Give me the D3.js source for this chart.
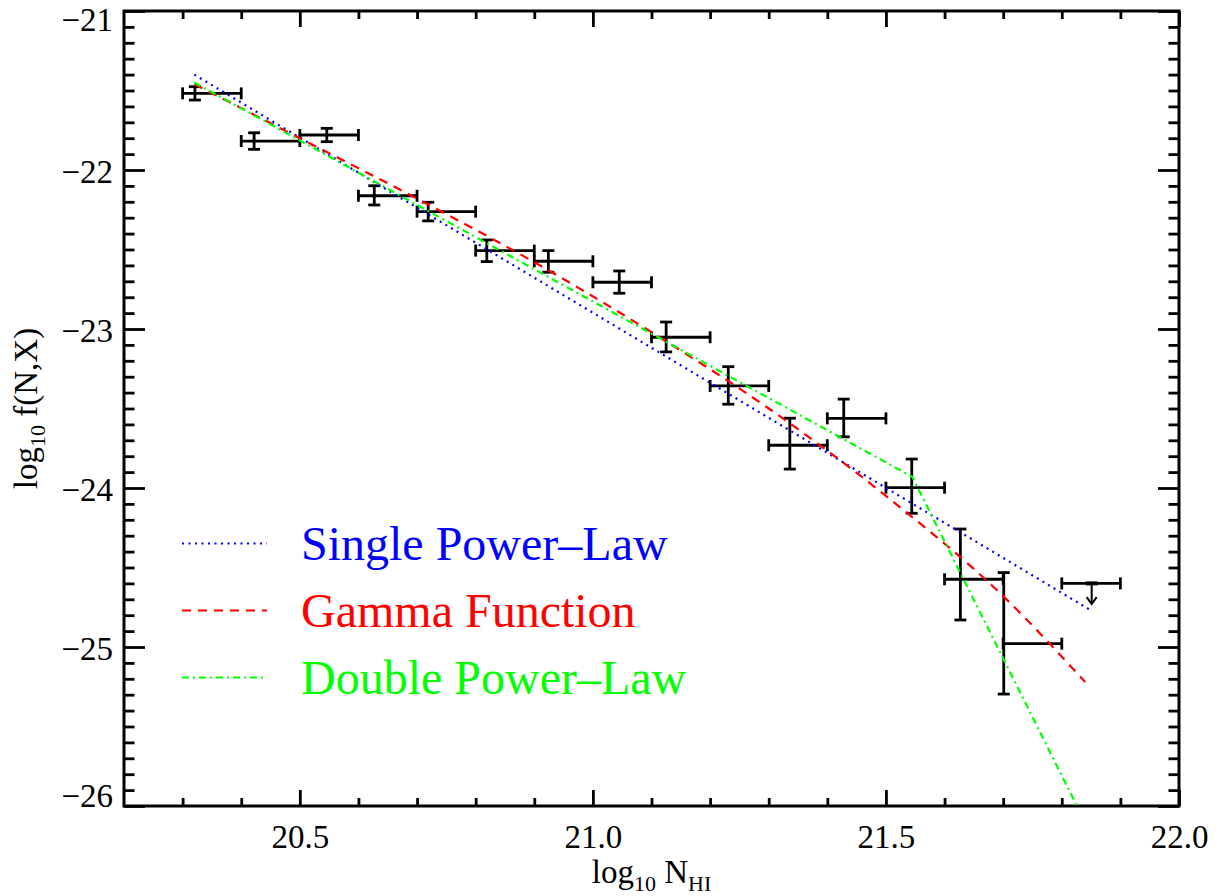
<!DOCTYPE html>
<html>
<head>
<meta charset="utf-8">
<script src="https://cdn.jsdelivr.net/npm/d3@7"></script>
<style>
  body { margin: 0; background: #fff; }
</style>
</head>
<body>
<div id="chart"></div>
<script>
// binned measurements
const binX    = [20.321, 20.422, 20.546, 20.627, 20.719, 20.819, 20.924, 21.045, 21.125, 21.231, 21.336, 21.428, 21.544, 21.627, 21.701];
const binLo   = [20.3, 20.4, 20.5, 20.6, 20.7, 20.8, 20.9, 21.0, 21.1, 21.2, 21.3, 21.4, 21.5, 21.6, 21.7];
const binHi   = [20.4, 20.5, 20.6, 20.7, 20.8, 20.9, 21.0, 21.1, 21.2, 21.3, 21.4, 21.5, 21.6, 21.7, 21.8];
const binY    = [-21.518, -21.818, -21.780, -22.162, -22.262, -22.507, -22.574, -22.706, -23.052, -23.358, -23.731, -23.562, -23.998, -24.574, -24.979];
const errUp   = [0.042, 0.052, 0.042, 0.063, 0.059, 0.067, 0.067, 0.071, 0.096, 0.121, 0.170, 0.121, 0.180, 0.316, 0.447];
const errDown = [0.042, 0.052, 0.042, 0.058, 0.058, 0.069, 0.069, 0.069, 0.092, 0.115, 0.150, 0.116, 0.161, 0.256, 0.317];

// upper limit in last bin
const limX = 21.851, limLo = 21.8, limHi = 21.9, limY = -24.60, limArrow = 0.13;

// fitted models
const singleX = [20.32, 21.85];
const singleY = [-21.40, -24.77];
const gammaX  = [20.32, 20.50, 20.70, 20.90, 21.10, 21.30, 21.50, 21.70, 21.84];
const gammaY  = [-21.46, -21.80, -22.18, -22.58, -23.02, -23.50, -24.05, -24.68, -25.22];
const doubleX = [20.32, 21.545, 21.83];
const doubleY = [-21.45, -23.93, -26.03];

const legendNames  = ["Single Power\u2013Law", "Gamma Function", "Double Power\u2013Law"];
const legendColors = ["#0000ff", "#ff0000", "#00ff00"];
const legendDash   = ["2,4.5", "9,7", "7,4,2,4"];

const xMajor = [20.5, 21.0, 21.5, 22.0];
const yMajor = [-21, -22, -23, -24, -25, -26];

const serif = "'Liberation Serif', 'Times New Roman', serif";
const width = 1223, height = 896;
const margin = { top: 11, right: 44, bottom: 90, left: 124 };
const w = width - margin.left - margin.right;
const h = height - margin.top - margin.bottom;

const svg = d3.select("#chart").append("svg")
    .attr("width", width)
    .attr("height", height)
    .style("font-family", serif)
  .append("g")
    .attr("transform", `translate(${margin.left},${margin.top})`);

const x = d3.scaleLinear().domain([20.2, 22.0]).range([0, w]);
const y = d3.scaleLinear().domain([-26, -21]).range([h, 0]);

svg.append("clipPath").attr("id", "clip")
  .append("rect").attr("width", w).attr("height", h);

// axes: ticks point inward on all four sides
const xMinor = d3.range(20.3, 22.0, 0.1).filter(v => Math.abs(v * 2 - Math.round(v * 2)) > 1e-6);
const yMinor = d3.range(-25.9, -21.0, 0.1).filter(v => Math.abs(v - Math.round(v)) > 1e-6);
const tickLenX = 16, tickLenY = 21;

function styleAxis(g) {
  g.attr("font-family", null).attr("font-size", null);
  g.select(".domain").remove();
  g.selectAll(".tick line").attr("stroke", "#000").attr("stroke-width", 2.8);
}

svg.append("g").attr("transform", `translate(0,${h})`)
    .call(d3.axisBottom(x).tickValues(xMajor).tickSize(-tickLenX).tickFormat(d3.format(".1f")))
    .call(styleAxis)
    .call(g => g.selectAll(".tick text")
      .attr("y", 42).attr("dy", 0).attr("fill", "#000")
      .style("font-size", "33px").style("font-family", serif));
svg.append("g").attr("transform", `translate(0,${h})`)
    .call(d3.axisBottom(x).tickValues(xMinor).tickSize(-tickLenX / 2).tickFormat(""))
    .call(styleAxis);
svg.append("g")
    .call(d3.axisTop(x).tickValues(xMajor).tickSize(-tickLenX).tickFormat(""))
    .call(styleAxis);
svg.append("g")
    .call(d3.axisTop(x).tickValues(xMinor).tickSize(-tickLenX / 2).tickFormat(""))
    .call(styleAxis);

svg.append("g")
    .call(d3.axisLeft(y).tickValues(yMajor).tickSize(-tickLenY).tickPadding(11)
      .tickFormat(d => "\u2212" + Math.abs(d)))
    .call(styleAxis)
    .call(g => g.selectAll(".tick text")
      .attr("x", -11).attr("dy", 0).attr("fill", "#000")
      .style("font-size", "33px").style("font-family", serif)
      .attr("y", d => d === -21 ? 19 : (d === -26 ? 0 : 12.5)));
svg.append("g")
    .call(d3.axisLeft(y).tickValues(yMinor).tickSize(-tickLenY / 2).tickFormat(""))
    .call(styleAxis);
svg.append("g").attr("transform", `translate(${w},0)`)
    .call(d3.axisRight(y).tickValues(yMajor).tickSize(-tickLenY).tickFormat(""))
    .call(styleAxis);
svg.append("g").attr("transform", `translate(${w},0)`)
    .call(d3.axisRight(y).tickValues(yMinor).tickSize(-tickLenY / 2).tickFormat(""))
    .call(styleAxis);

svg.append("rect")
    .attr("width", w).attr("height", h)
    .attr("fill", "none").attr("stroke", "#000").attr("stroke-width", 3);

// axis titles
const xt = svg.append("text")
    .attr("x", w / 2).attr("y", h + 77)
    .attr("text-anchor", "middle").style("font-size", "33px").style("font-family", serif).attr("fill", "#000");
xt.append("tspan").text("log");
xt.append("tspan").style("font-size", "22px").attr("dy", 8).text("10");
xt.append("tspan").attr("dy", -8).text(" N");
xt.append("tspan").style("font-size", "22px").attr("dy", 8).text("HI");

const yt = svg.append("text")
    .attr("transform", `translate(${37 - margin.left},${h / 2}) rotate(-90)`)
    .attr("text-anchor", "middle").style("font-size", "33px").style("font-family", serif).attr("fill", "#000");
yt.append("tspan").text("log");
yt.append("tspan").style("font-size", "22px").attr("dy", 8).text("10");
yt.append("tspan").attr("dy", -8).text(" f(N,X)");

// data points with error bars
const pts = binX.map((d, i) => ({ x: d, lo: binLo[i], hi: binHi[i], y: binY[i], up: errUp[i], dn: errDown[i] }));
const cap = 6;
const pg = svg.append("g").attr("stroke", "#000").attr("stroke-width", 2.8).attr("fill", "none");

pts.forEach(p => {
  const g = pg.append("g");
  g.append("line").attr("x1", x(p.lo)).attr("x2", x(p.hi)).attr("y1", y(p.y)).attr("y2", y(p.y));
  g.append("line").attr("x1", x(p.x)).attr("x2", x(p.x)).attr("y1", y(p.y + p.up)).attr("y2", y(p.y - p.dn));
  [p.lo, p.hi].forEach(v => g.append("line")
      .attr("x1", x(v)).attr("x2", x(v)).attr("y1", y(p.y) - cap).attr("y2", y(p.y) + cap));
  [p.y + p.up, p.y - p.dn].forEach(v => g.append("line")
      .attr("x1", x(p.x) - cap).attr("x2", x(p.x) + cap).attr("y1", y(v)).attr("y2", y(v)));
});

// upper limit
const lg = pg.append("g");
lg.append("line").attr("x1", x(limLo)).attr("x2", x(limHi)).attr("y1", y(limY)).attr("y2", y(limY));
[limLo, limHi].forEach(v => lg.append("line")
    .attr("x1", x(v)).attr("x2", x(v)).attr("y1", y(limY) - cap).attr("y2", y(limY) + cap));
lg.append("line").attr("x1", x(limX) - cap).attr("x2", x(limX) + cap)
    .attr("y1", y(limY)).attr("y2", y(limY)).attr("stroke-width", 4);
lg.append("line").attr("x1", x(limX)).attr("x2", x(limX))
    .attr("y1", y(limY)).attr("y2", y(limY - limArrow)).attr("stroke-width", 2);
lg.append("path").attr("stroke-width", 2)
    .attr("d", `M${x(limX) - 5},${y(limY - limArrow) - 7}L${x(limX)},${y(limY - limArrow)}L${x(limX) + 5},${y(limY - limArrow) - 7}`);

// model curves
const models = [
  { xs: singleX, ys: singleY, curve: d3.curveLinear },
  { xs: gammaX,  ys: gammaY,  curve: d3.curveMonotoneX },
  { xs: doubleX, ys: doubleY, curve: d3.curveLinear }
];
const cg = svg.append("g").attr("clip-path", "url(#clip)");
models.forEach((m, i) => {
  const line = d3.line().x(d => x(d[0])).y(d => y(d[1])).curve(m.curve);
  cg.append("path")
      .datum(m.xs.map((v, j) => [v, m.ys[j]]))
      .attr("d", line)
      .attr("fill", "none")
      .attr("stroke", legendColors[i])
      .attr("stroke-width", 2.2)
      .attr("stroke-dasharray", legendDash[i]);
});

// legend
const legend = svg.selectAll(".legend-item")
    .data(legendNames)
  .enter().append("g")
    .attr("class", "legend-item")
    .attr("transform", (d, i) => `translate(${182 - margin.left},${543.5 - margin.top + i * 67})`);

legend.append("line")
    .attr("x1", 0).attr("x2", 85)
    .attr("stroke", (d, i) => legendColors[i])
    .attr("stroke-width", 2.2)
    .attr("stroke-dasharray", (d, i) => legendDash[i]);

legend.append("text")
    .attr("x", 119).attr("y", 16)
    .style("font-size", "48px")
    .style("font-family", serif)
    .attr("fill", (d, i) => legendColors[i])
    .text(d => d);
</script>
</body>
</html>
